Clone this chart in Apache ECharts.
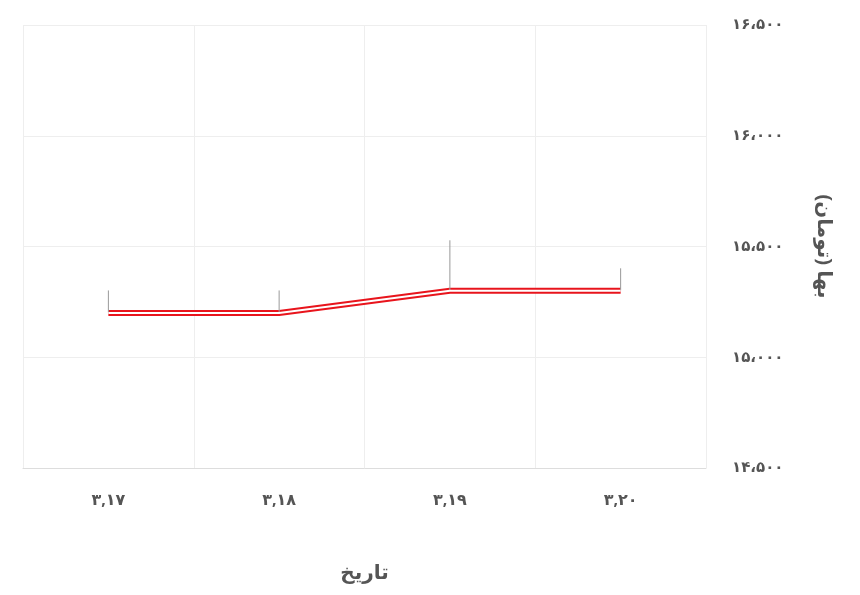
<!DOCTYPE html>
<html><head><meta charset="utf-8">
<script src="https://cdn.jsdelivr.net/npm/echarts@6/dist/echarts.min.js"></script>
<style>html,body{margin:0;padding:0;background:#fff}#c{width:860px;height:595px}</style>
</head><body><div id="c"></div>
<script>
const categories = ['۳,۱۷','۳,۱۸','۳,۱۹','۳,۲۰'];
const prices = [15200, 15200, 15300, 15300];
const yMin = 14500, yMax = 16500, yStep = 500;
const xName = 'تاریخ', yName = 'بها (تومان)';

const fa = n => Math.round(n).toLocaleString('en-US').replace(/,/g,'،').replace(/\d/g, d => '۰۱۲۳۴۵۶۷۸۹'[d]);
const font = '"Noto Sans", "DejaVu Sans", sans-serif';
const chart = echarts.init(document.getElementById('c'));
chart.setOption({
  animation:false,
  grid:{left:23,right:154,top:25,bottom:127},
  xAxis:{type:'category',data:categories,boundaryGap:true,
    name:xName,nameLocation:'middle',nameGap:95,
    nameTextStyle:{fontSize:20,fontWeight:'bold',color:'#555',fontFamily:font},
    axisLine:{lineStyle:{color:'#ddd'}},axisTick:{show:false},
    axisLabel:{margin:24,fontSize:16,fontWeight:'bold',color:'#555',fontFamily:font},
    splitLine:{show:true,lineStyle:{color:'#eee'}}},
  yAxis:{type:'value',position:'right',min:yMin,max:yMax,interval:yStep,
    name:yName,nameLocation:'middle',nameGap:108,nameRotate:-90,
    nameTextStyle:{fontSize:20,fontWeight:'bold',color:'#555',fontFamily:font},
    axisLine:{show:false},axisTick:{show:false},
    axisLabel:{margin:26,fontSize:15,fontWeight:'bold',color:'#555',fontFamily:font,formatter:v=>fa(v)},
    splitLine:{lineStyle:{color:'#eee'}}},
  series:[
    {type:'line',data:prices,z:2,symbol:'circle',symbolSize:1,showSymbol:true,itemStyle:{opacity:0},
     lineStyle:{color:'#e8141c',width:6},
     label:{show:true,position:'top',distance:22,fontSize:15,fontWeight:'bold',color:'#444',fontFamily:font,formatter:p=>fa(p.value)},
     labelLine:{show:true,lineStyle:{color:'#999',width:1}},
     labelLayout:p=>p.dataIndex===2?{dy:-28}:{}},
    {type:'line',data:prices,z:3,symbol:'none',lineStyle:{color:'#fff',width:2},silent:true}
  ]
});
</script></body></html>
